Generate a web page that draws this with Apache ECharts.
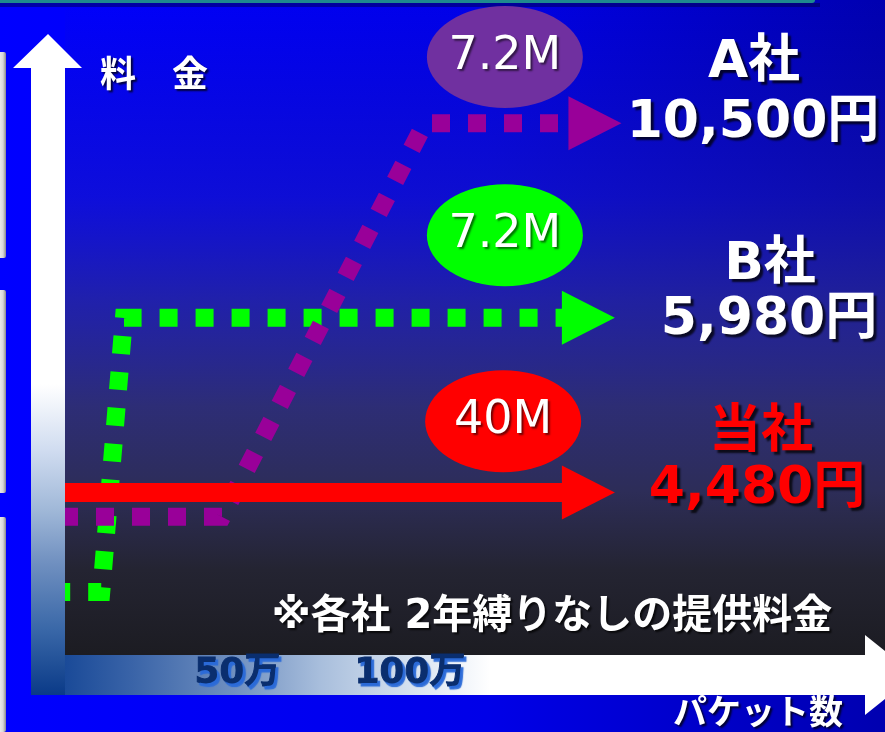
<!DOCTYPE html>
<html><head><meta charset="utf-8">
<script src="https://cdn.jsdelivr.net/npm/echarts@6/dist/echarts.min.js"></script>
<style>html,body{margin:0;padding:0;background:#0000f0;}#c{width:885px;height:732px;}</style>
</head><body><div id="c"></div>
<script>
// ---- data ----
const companies = ['A社', 'B社', '当社'];
const prices = [10500, 5980, 4480];          // 円
const speeds = ['7.2M', '7.2M', '40M'];
const xTickLabels = [50, 100];               // パケット数 (万)
// x: packets (万), y: relative price level (unitless)
const pathA = [[0, 21.1], [45.5, 21.1], [104.3, 81.2], [153.6, 81.2]];
const pathB = [[0, 9.6], [10.5, 9.6], [17.1, 51.5], [151.7, 51.5]];
const pathOwn = [[0, 24.8], [151.7, 24.8]];
const bubbleAt = [[127.5, 91.3], [127.5, 64.1], [127, 35.7]];
const colors = ['#990099', '#00ff00', '#ff0000'];
const bubbleColors = ['#7030a0', '#00ff00', '#ff0000'];

const chart = echarts.init(document.getElementById('c'));
const JP = '"DejaVu Sans", "Noto Sans CJK JP"';

function mkSeries(i, path, dashed, width, z, dashOffset) {
  return {
    type: 'line', name: companies[i], z: z,
    data: path.map((p, k) => k === path.length - 1 ? { value: p } : { value: p, symbol: 'none' }),
    symbol: 'triangle', symbolSize: [54, 53], symbolRotate: -90, showSymbol: true,
    itemStyle: { color: colors[i] },
    lineStyle: { color: colors[i], width: width, type: dashed ? [18, 18] : 'solid', dashOffset: dashOffset || 0, cap: 'butt', join: 'miter' },
    animation: false, silent: true,
    markPoint: {
      symbol: 'circle', symbolSize: [156, 102], symbolRotate: 0, silent: true,
      itemStyle: { color: bubbleColors[i] },
      label: { show: true, formatter: speeds[i], color: '#fff', fontSize: 46, fontFamily: 'DejaVu Sans',
        textShadowColor: 'rgba(0,0,0,0.55)', textShadowBlur: 2, textShadowOffsetX: 2, textShadowOffsetY: 2 },
      data: [{ coord: bubbleAt[i] }]
    }
  };
}

function txt(text, x, y, size, color, opts) {
  opts = opts || {};
  return { type: 'text', z: 50, silent: true, style: Object.assign({
    text: text, x: x, y: y, font: 'bold ' + size + 'px ' + JP, fill: color,
    align: 'center', verticalAlign: 'middle', textAlign: 'center', textVerticalAlign: 'middle',
    textShadowColor: 'rgba(0,0,0,0.75)', textShadowBlur: 2, textShadowOffsetX: 3, textShadowOffsetY: 3
  }, opts) };
}
const fmt = v => v.toLocaleString('en-US') + '円';

const graphics = [
  // base background
  { type: 'rect', z: -20, shape: { x: 0, y: 0, width: 885, height: 732 },
    style: { fill: new echarts.graphic.LinearGradient(0, 0, 1, 0, [
      { offset: 0, color: '#0000ff' }, { offset: 0.55, color: '#0000e8' }, { offset: 1, color: '#0000b0' }]) } },
  // panel overlay
  { type: 'rect', z: -19, shape: { x: 65, y: 0, width: 820, height: 655 },
    style: { fill: new echarts.graphic.LinearGradient(0, 0, 0, 1, [
      { offset: 0, color: 'rgba(30,30,140,0)' },
      { offset: 0.3, color: 'rgba(40,40,160,0.35)' },
      { offset: 0.46, color: 'rgba(45,45,140,0.72)' },
      { offset: 0.62, color: 'rgba(48,48,110,0.94)' },
      { offset: 0.75, color: 'rgba(45,45,88,1)' },
      { offset: 0.87, color: 'rgba(36,36,50,1)' },
      { offset: 1, color: 'rgba(28,28,34,1)' }]) } },
  // top teal strip
  { type: 'rect', z: -18, shape: { x: 0, y: 0, width: 815, height: 3, r: [0, 0, 3, 0] }, style: { fill: '#1e8a8e' } },
  { type: 'rect', z: -18, shape: { x: 0, y: 3, width: 820, height: 4 }, style: { fill: 'rgba(0,0,60,0.45)' } },
  // left grey boxes
  ...[[52, 206], [290, 203], [517, 215]].map(b => ({ type: 'rect', z: -18,
    shape: { x: -4, y: b[0], width: 10, height: b[1], r: 2 },
    style: { fill: new echarts.graphic.LinearGradient(0, 0, 1, 0, [
      { offset: 0, color: '#ffffff' }, { offset: 0.7, color: '#d8d8d8' }, { offset: 1, color: '#8a8a8a' }]) } })),
  // vertical axis arrow
  { type: 'polygon', z: -10, shape: { points: [[31, 695], [31, 68], [13, 68], [48, 34], [82, 68], [65, 68], [65, 695]] },
    style: { fill: new echarts.graphic.LinearGradient(0, 0, 0, 1, [
      { offset: 0, color: '#ffffff' }, { offset: 0.53, color: '#ffffff' }, { offset: 0.63, color: '#d0dcf0' },
      { offset: 0.72, color: '#a0b8d8' }, { offset: 0.8, color: '#7090c0' }, { offset: 0.9, color: '#3a68a8' },
      { offset: 1, color: '#0a3a88' }]) } },
  // horizontal axis arrow
  { type: 'polygon', z: -10, shape: { points: [[65, 655], [865, 655], [865, 635], [915, 675], [865, 715], [865, 695], [65, 695]] },
    style: { fill: new echarts.graphic.LinearGradient(0, 0, 1, 0, [
      { offset: 0, color: '#1a4a98' }, { offset: 0.08, color: '#3a64a8' }, { offset: 0.2, color: '#7090c0' },
      { offset: 0.3, color: '#a8bedc' }, { offset: 0.42, color: '#dce6f2' }, { offset: 0.5, color: '#ffffff' },
      { offset: 1, color: '#ffffff' }]) } },
  // labels
  txt('料　金', 154, 78, 36, '#ffffff', { textShadowOffsetX: 2, textShadowOffsetY: 2 }),
  txt(companies[0], 754, 63, 52, '#ffffff'),
  txt(fmt(prices[0]), 753, 123, 52, '#ffffff'),
  txt(companies[1], 770, 265, 52, '#ffffff'),
  txt(fmt(prices[1]), 769, 320, 52, '#ffffff'),
  txt(companies[2], 761, 433, 52, '#ff0000'),
  txt(fmt(prices[2]), 757, 489, 52, '#ff0000'),
  txt('※各社 2年縛りなしの提供料金', 552, 618, 40, '#ffffff', { textShadowOffsetX: 2, textShadowOffsetY: 2 }),
  txt('パケット数', 758, 715, 34, '#ffffff', { textShadowOffsetX: 2, textShadowOffsetY: 2 })
];

chart.setOption({
  animation: false,
  grid: { left: 65, top: 0, width: 690, height: 655, containLabel: false },
  xAxis: {
    type: 'value', min: 0, max: 200, interval: 50, z: 20,
    axisLine: { show: false }, axisTick: { show: false }, splitLine: { show: false },
    axisLabel: {
      show: true, margin: 1, fontSize: 36, fontWeight: 'bold', fontFamily: JP, color: '#0a2e6e', lineHeight: 36,
      textBorderColor: '#0a2e6e', textBorderWidth: 1,
      textShadowColor: '#2a6ad8', textShadowOffsetX: 2.5, textShadowOffsetY: 2.5, textShadowBlur: 1,
      formatter: v => xTickLabels.includes(v) ? v + '万' : ''
    }
  },
  yAxis: { type: 'value', min: 0, max: 100, show: false, splitLine: { show: false } },
  graphic: graphics,
  series: [mkSeries(1, pathB, true, 18, 3, 12.8), mkSeries(0, pathA, true, 18, 4, 5), mkSeries(2, pathOwn, false, 19, 5)]
});
</script></body></html>
